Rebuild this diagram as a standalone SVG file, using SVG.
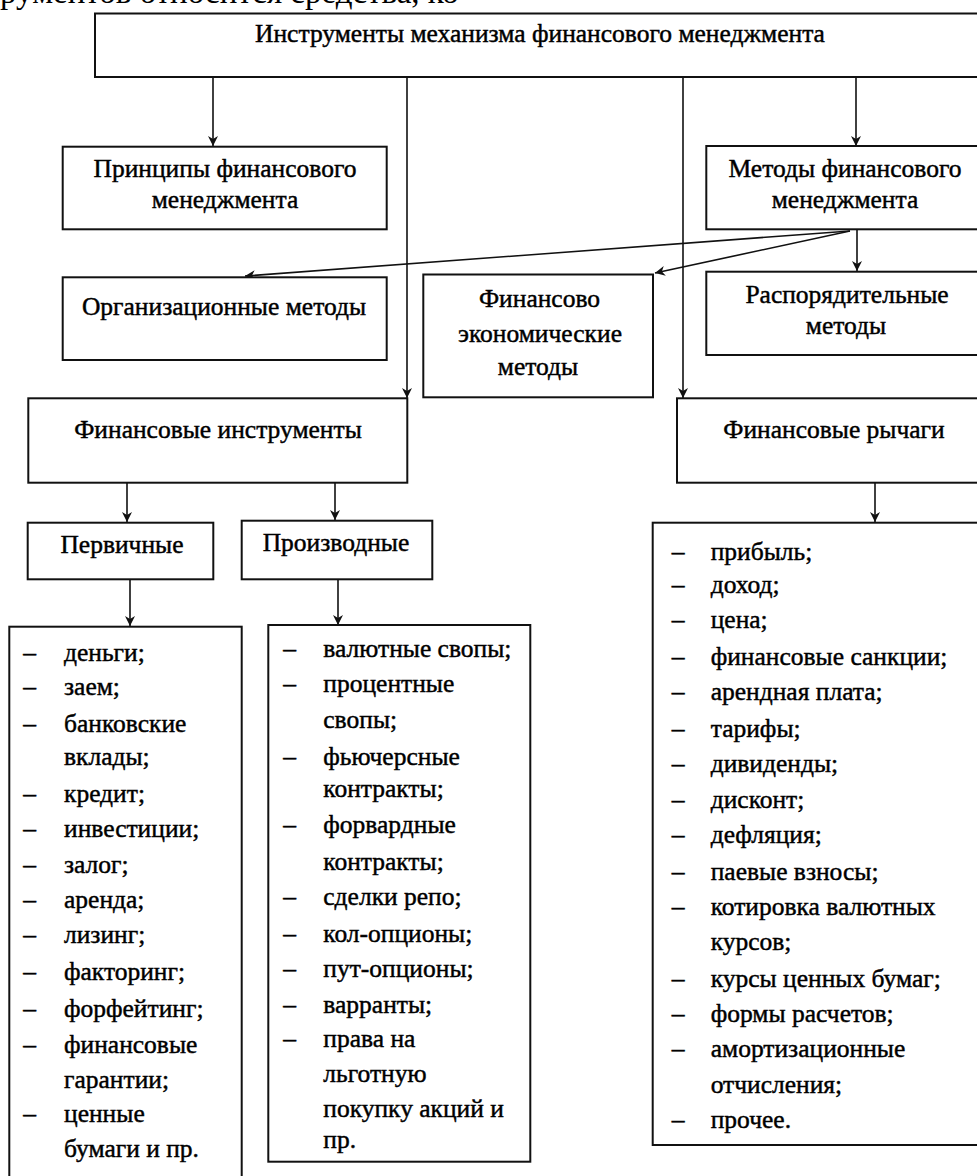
<svg xmlns="http://www.w3.org/2000/svg" width="977" height="1176" viewBox="0 0 977 1176">
<defs>
<marker id="arr" viewBox="0 0 10 10" refX="10" refY="5" markerWidth="10" markerHeight="10" markerUnits="userSpaceOnUse" orient="auto">
<path d="M10,5 L0,0 L3,5 L0,10 Z" fill="#111"/>
</marker>
<style>
.box{fill:#fff;stroke:#111;stroke-width:2}
.t{font-family:"Liberation Serif","DejaVu Serif",serif;font-size:25.5px;fill:#000;stroke:#000;stroke-width:0.45}
.c{text-anchor:middle}
.con{fill:none;stroke:#111;stroke-width:1.6;marker-end:url(#arr)}
</style>
</defs>
<rect width="977" height="1176" fill="#fff"/>
<text class="t" x="0" y="2.5" style="font-size:33px;stroke-width:0">рументов относится средства, ко</text>

<g id="connectors">
<line class="con" x1="213" y1="78" x2="213" y2="146"/>
<line class="con" x1="407" y1="78" x2="407" y2="398"/>
<line class="con" x1="683" y1="78" x2="683" y2="398"/>
<line class="con" x1="856" y1="78" x2="856" y2="146"/>
<line class="con" x1="850" y1="231" x2="245" y2="276"/>
<line class="con" x1="850" y1="231" x2="655" y2="273"/>
<line class="con" x1="857" y1="230" x2="857" y2="271"/>
<line class="con" x1="127" y1="483" x2="127" y2="522"/>
<line class="con" x1="335" y1="483" x2="335" y2="520"/>
<line class="con" x1="130" y1="580" x2="130" y2="626"/>
<line class="con" x1="338" y1="580" x2="338" y2="625"/>
<line class="con" x1="875" y1="483" x2="875" y2="522"/>
</g>

<g id="n-top">
<rect class="box" x="95" y="13.5" width="895" height="63.5"/>
<text class="t c" x="540" y="42">Инструменты механизма финансового менеджмента</text>
</g>
<g id="n-principles">
<rect class="box" x="62.7" y="146.7" width="324" height="82.6"/>
<text class="t c" x="225" y="177">Принципы финансового</text>
<text class="t c" x="225" y="208">менеджмента</text>
</g>
<g id="n-methods">
<rect class="box" x="706.3" y="146" width="284" height="83.3"/>
<text class="t c" x="845" y="177">Методы финансового</text>
<text class="t c" x="845" y="208">менеджмента</text>
</g>
<g id="n-org">
<rect class="box" x="62.7" y="277.3" width="324" height="82.7"/>
<text class="t c" x="224" y="315">Организационные методы</text>
</g>
<g id="n-fineco">
<rect class="box" x="423.3" y="274.5" width="229.7" height="122.8"/>
<text class="t c" x="539.5" y="307">Финансово</text>
<text class="t c" x="540" y="342">экономические</text>
<text class="t c" x="538" y="375">методы</text>
</g>
<g id="n-admin">
<rect class="box" x="706.3" y="271.7" width="284" height="83.3"/>
<text class="t c" x="847" y="303">Распорядительные</text>
<text class="t c" x="846" y="334">методы</text>
</g>
<g id="n-fininstr">
<rect class="box" x="28.3" y="398.3" width="379" height="84.4"/>
<text class="t c" x="218" y="438">Финансовые инструменты</text>
</g>
<g id="n-levers">
<rect class="box" x="677" y="398.3" width="313" height="84.4"/>
<text class="t c" x="834" y="438">Финансовые рычаги</text>
</g>
<g id="n-primary">
<rect class="box" x="27.7" y="522.7" width="185.6" height="56.6"/>
<text class="t c" x="122" y="553">Первичные</text>
</g>
<g id="n-deriv">
<rect class="box" x="241.7" y="520.7" width="190.6" height="58.6"/>
<text class="t c" x="336" y="551">Производные</text>
</g>

<g id="n-list-primary">
<rect class="box" x="9.3" y="626.7" width="232.4" height="560"/>
<g class="t">
<text x="23.3" y="661">–</text><text x="64" y="661">деньги;</text>
<text x="23.3" y="695">–</text><text x="64" y="695">заем;</text>
<text x="23.3" y="732">–</text><text x="64" y="732">банковские</text>
<text x="64" y="765">вклады;</text>
<text x="23.3" y="802">–</text><text x="64" y="802">кредит;</text>
<text x="23.3" y="837">–</text><text x="64" y="837">инвестиции;</text>
<text x="23.3" y="873">–</text><text x="64" y="873">залог;</text>
<text x="23.3" y="908">–</text><text x="64" y="908">аренда;</text>
<text x="23.3" y="943">–</text><text x="64" y="943">лизинг;</text>
<text x="23.3" y="980">–</text><text x="64" y="980">факторинг;</text>
<text x="23.3" y="1017">–</text><text x="64" y="1017">форфейтинг;</text>
<text x="23.3" y="1053">–</text><text x="64" y="1053">финансовые</text>
<text x="64" y="1088">гарантии;</text>
<text x="23.3" y="1122">–</text><text x="64" y="1122">ценные</text>
<text x="64" y="1157">бумаги и пр.</text>
</g>
</g>

<g id="n-list-deriv">
<rect class="box" x="268.3" y="625" width="262" height="536.7"/>
<g class="t">
<text x="283.3" y="657">–</text><text x="323.3" y="657">валютные свопы;</text>
<text x="283.3" y="692">–</text><text x="323.3" y="692">процентные</text>
<text x="323.3" y="728">свопы;</text>
<text x="283.3" y="765">–</text><text x="323.3" y="765">фьючерсные</text>
<text x="323.3" y="797">контракты;</text>
<text x="283.3" y="833">–</text><text x="323.3" y="833">форвардные</text>
<text x="323.3" y="870">контракты;</text>
<text x="283.3" y="905">–</text><text x="323.3" y="905">сделки репо;</text>
<text x="283.3" y="942">–</text><text x="323.3" y="942">кол-опционы;</text>
<text x="283.3" y="977">–</text><text x="323.3" y="977">пут-опционы;</text>
<text x="283.3" y="1013">–</text><text x="323.3" y="1013">варранты;</text>
<text x="283.3" y="1047">–</text><text x="323.3" y="1047">права на</text>
<text x="323.3" y="1082">льготную</text>
<text x="323.3" y="1117">покупку акций и</text>
<text x="323.3" y="1148">пр.</text>
</g>
</g>

<g id="n-list-levers">
<rect class="box" x="652.7" y="522.7" width="337" height="622.3"/>
<g class="t">
<text x="671.7" y="560">–</text><text x="710.7" y="560">прибыль;</text>
<text x="671.7" y="593">–</text><text x="710.7" y="593">доход;</text>
<text x="671.7" y="628">–</text><text x="710.7" y="628">цена;</text>
<text x="671.7" y="665">–</text><text x="710.7" y="665">финансовые санкции;</text>
<text x="671.7" y="700">–</text><text x="710.7" y="700">арендная плата;</text>
<text x="671.7" y="737">–</text><text x="710.7" y="737">тарифы;</text>
<text x="671.7" y="772">–</text><text x="710.7" y="772">дивиденды;</text>
<text x="671.7" y="808">–</text><text x="710.7" y="808">дисконт;</text>
<text x="671.7" y="843">–</text><text x="710.7" y="843">дефляция;</text>
<text x="671.7" y="880">–</text><text x="710.7" y="880">паевые взносы;</text>
<text x="671.7" y="915">–</text><text x="710.7" y="915">котировка валютных</text>
<text x="710.7" y="950">курсов;</text>
<text x="671.7" y="987">–</text><text x="710.7" y="987">курсы ценных бумаг;</text>
<text x="671.7" y="1022">–</text><text x="710.7" y="1022">формы расчетов;</text>
<text x="671.7" y="1057">–</text><text x="710.7" y="1057">амортизационные</text>
<text x="710.7" y="1093">отчисления;</text>
<text x="671.7" y="1128">–</text><text x="710.7" y="1128">прочее.</text>
</g>
</g>
</svg>
